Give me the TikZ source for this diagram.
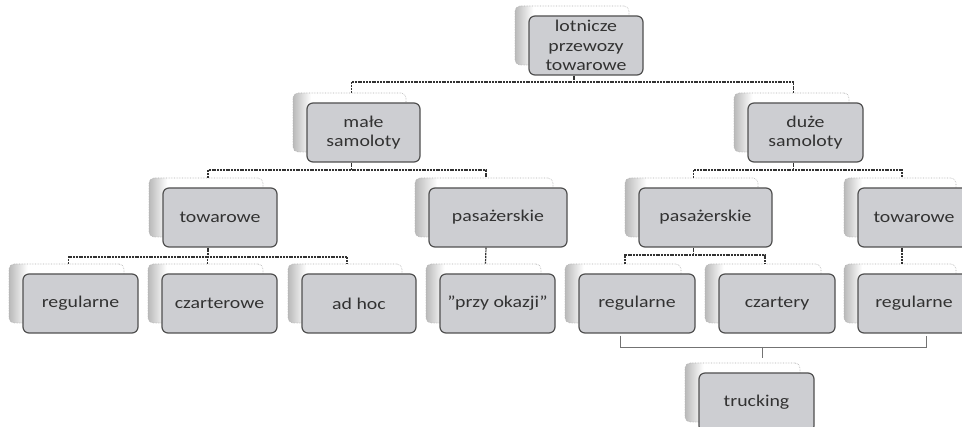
\documentclass[tikz,border=0pt]{standalone}
\usepackage{fontspec}
\setmainfont{Carlito}[FakeStretch=1.2]
\usetikzlibrary{calc}
\definecolor{frontgray}{RGB}{205,206,210}
\definecolor{edgegray}{RGB}{80,80,80}
\definecolor{txtgray}{RGB}{50,50,50}
\definecolor{conngray}{RGB}{50,50,50}
\pgfdeclarehorizontalshading{backsh}{100bp}{color(0bp)=(gray!55); color(25bp)=(gray!55); color(33bp)=(white); color(100bp)=(white)}
\tikzset{
  backbox/.style={shading=backsh, draw=gray!60, densely dotted, line width=0.6pt, rounded corners=5pt, inner sep=0pt},
  frontbox/.style={fill=frontgray, draw=edgegray, line width=1.2pt, rounded corners=6pt, text=txtgray, align=center, inner sep=0pt, font=\fontsize{16.5}{19.5}\selectfont},
  conn/.style={draw=conngray, line width=1.2pt, dash pattern=on 2pt off 0.8pt},
  bracket/.style={draw=black!55, line width=0.8pt}
}
\newcommand\mybox[5]{%
  \pgfmathsetmacro\bxcx{(#2+#3)/2}%
  \pgfmathsetmacro\bxcy{#4+29.5}%
  \pgfmathsetmacro\bxw{#3-#2}%
  \node[backbox, minimum width=\bxw pt, minimum height=59pt] (#1-b) at (\bxcx-14,\bxcy-10) {};
  \node[frontbox, minimum width=\bxw pt, minimum height=59pt] (#1) at (\bxcx,\bxcy) {#5};
  \coordinate (#1-t) at ($(#1-b.north)+(2,0)$);
  \coordinate (#1-s) at ($(#1.south)+(-12,0)$);
}
\begin{document}
\begin{tikzpicture}[x=1pt,y=-1pt]
\useasboundingbox (0,0) rectangle (962,427);
\clip (0,0) rectangle (962,427);
\fill[white] (0,0) rectangle (962,427);
\coordinate (L1) at (0,82);
\coordinate (L2) at (0,170);
\coordinate (L3) at (0,257);
\coordinate (L3b) at (0,255);
\mybox{top}{529}{643}{16}{lotnicze\\przewozy\\towarowe}
\mybox{male}{307}{420}{103}{małe\\samoloty}
\mybox{duze}{748}{863}{103}{duże\\samoloty}
\mybox{tow1}{163}{277}{188}{towarowe}
\mybox{pas1}{429}{567}{188}{pasażerskie}
\mybox{pas2}{639}{772}{188}{pasażerskie}
\mybox{tow2}{858}{970}{188}{towarowe}
\mybox{reg1}{23}{138}{274}{regularne}
\mybox{czt}{162}{277}{274}{czarterowe}
\mybox{adhoc}{302}{416}{274}{ad hoc}
\mybox{przy}{440}{555}{274}{\char34 przy okazji\char34}
\mybox{reg2}{579}{695}{274}{regularne}
\mybox{czy}{719}{835}{274}{czartery}
\mybox{reg3}{858}{970}{274}{regularne}
\mybox{truck}{699}{814}{373}{trucking}
% level 1 -> 2
\draw[conn] (top-s) -- (top-s |- L1);
\draw[conn] (male-t) -- (male-t |- L1) -- (duze-t |- L1) -- (duze-t);
% level 2 -> 3
\draw[conn] (male-s) -- (male-s |- L2);
\draw[conn] (tow1-t) -- (tow1-t |- L2) -- (pas1-t |- L2) -- (pas1-t);
\draw[conn] (duze-s) -- (duze-s |- L2);
\draw[conn] (pas2-t) -- (pas2-t |- L2) -- (tow2-t |- L2) -- (tow2-t);
% level 3 -> 4
\draw[conn] (tow1-s) -- (tow1-s |- L3);
\draw[conn] (reg1-t) -- (reg1-t |- L3) -- (adhoc-t |- L3) -- (adhoc-t);
\draw[conn] (czt-t) -- (czt-t |- L3);
\draw[conn] (pas1-s) -- (przy-t);
\draw[conn] (pas2-s) -- (pas2-s |- L3b);
\draw[conn] (reg2-t) -- (reg2-t |- L3b) -- (czy-t |- L3b) -- (czy-t);
\draw[conn] (tow2-s) -- (reg3-t);
% bracket to trucking
\coordinate (brl) at ($(reg2.south)+(-17,2)$);
\coordinate (brr) at ($(reg3.south)+(12,2)$);
\coordinate (brm) at (762,347);
\draw[bracket] (brl) -- (brl |- brm) -- (brr |- brm) -- (brr);
\draw[bracket] (brm) -- ($(truck-b.north -| brm)+(0,-5)$);
\end{tikzpicture}
\end{document}
